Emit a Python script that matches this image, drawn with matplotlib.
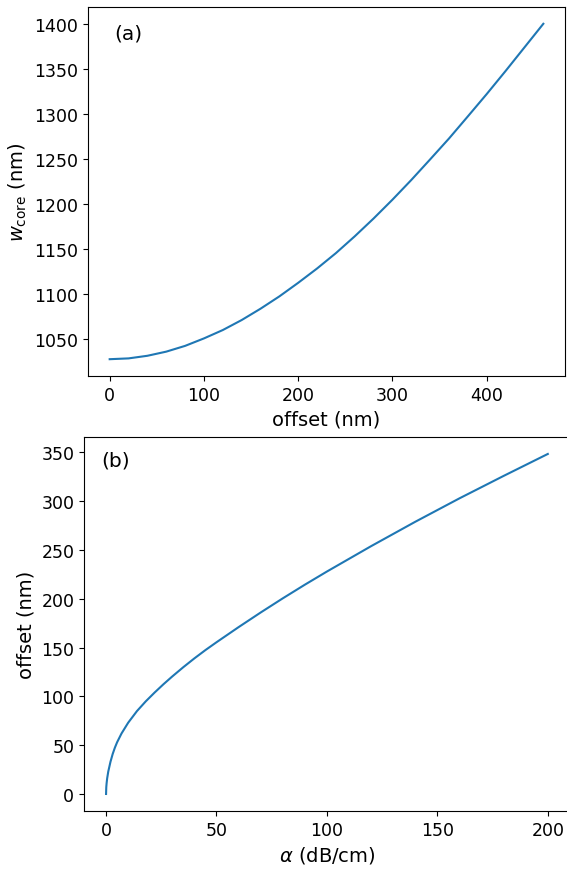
import matplotlib
matplotlib.use("Agg")
import matplotlib.pyplot as plt
import numpy as np

# (a) core width vs offset
offset_a = [0, 20, 40, 60, 80, 100, 120, 140, 160, 180, 200, 220, 240, 260,
            280, 300, 320, 340, 360, 380, 400, 420, 440, 460]
w_core = [1027.0, 1027.9, 1030.8, 1035.4, 1041.8, 1050.1, 1059.4, 1070.5,
          1083.1, 1096.8, 1111.9, 1127.8, 1144.9, 1163.6, 1183.4, 1204.3,
          1226.2, 1249.1, 1272.3, 1296.9, 1321.7, 1347.3, 1373.5, 1399.7]

# (b) offset vs loss
alpha = [0, 0.1, 0.25, 0.5, 1, 2, 3, 4, 5, 7, 10, 14, 18, 22, 26, 30, 35,
         40, 45, 50, 60, 70, 80, 90, 100, 120, 140, 160, 180, 200]
offset_b = [0, 7, 11, 16, 23, 33, 41, 47.5, 53, 62, 73, 85, 95, 104, 112.5,
            120.5, 130, 139, 147.5, 155.5, 171, 186, 200.5, 214.5, 228, 254,
            279, 303, 326, 348.5]

plt.rcParams["font.size"] = 12.5

fig = plt.figure(figsize=(5.67, 8.7), dpi=100)

ax1 = fig.add_axes([0.1552, 0.5667, 0.8413, 0.4241])
ax1.plot(offset_a, w_core, color="tab:blue", lw=1.5)
ax1.set_xlabel("offset (nm)", fontsize=14)
ax1.set_ylabel(r"$w_\mathrm{core}$ (nm)", fontsize=14)
ax1.set_xticks([0, 100, 200, 300, 400])
ax1.set_yticks(np.arange(1050, 1401, 50))
ax1.text(0.055, 0.955, "(a)", transform=ax1.transAxes, fontsize=14.5, va="top")

ax2 = fig.add_axes([0.1481, 0.0667, 0.857, 0.4299])
ax2.plot(alpha, offset_b, color="tab:blue", lw=1.5)
ax2.set_xlabel(r"$\alpha$ (dB/cm)", fontsize=14)
ax2.set_ylabel("offset (nm)", fontsize=14)
ax2.set_xticks([0, 50, 100, 150, 200])
ax2.set_yticks(np.arange(0, 351, 50))
ax2.text(0.035, 0.965, "(b)", transform=ax2.transAxes, fontsize=14.5, va="top")

fig.savefig("out.png", dpi=100)
